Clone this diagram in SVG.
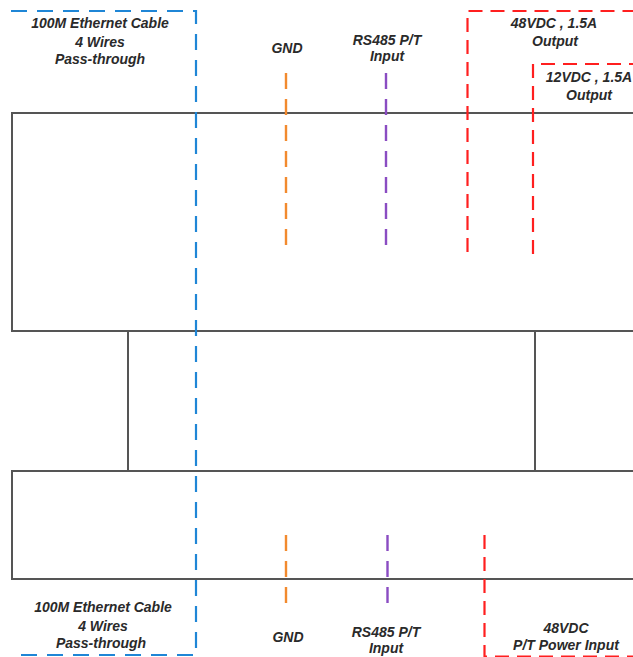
<svg xmlns="http://www.w3.org/2000/svg" width="633" height="657" viewBox="0 0 633 657">
<style>
.box{fill:none;stroke:#555;stroke-width:2}
.t{font-family:"Liberation Sans",Arial,sans-serif;font-size:14px;font-style:italic;font-weight:bold;fill:#2a2a2a;text-anchor:middle}
.blue{fill:none;stroke:#1f86d6;stroke-width:2.2;stroke-dasharray:16 10}
.org{fill:none;stroke:#f28a2e;stroke-width:2.4;stroke-dasharray:16 10}
.pur{fill:none;stroke:#8a4cc2;stroke-width:2.4;stroke-dasharray:16 10}
.red{fill:none;stroke:#ff1f1f;stroke-width:2.2;stroke-dasharray:14 8}
</style>
<rect width="633" height="657" fill="#fff"/>
<g id="top-unit"><path class="box" d="M640 113 H12 V331 H640"/></g>
<g id="middle-unit"><path class="box" d="M128 471 V331 M535 331 V471"/></g>
<g id="bottom-unit"><path class="box" d="M640 471 H12 V579 H640"/></g>
<g id="connectors">
<path class="blue" d="M11 11 H196 V655 H11"/>
<path class="org" d="M286 73 V249"/>
<path class="pur" d="M386 73 V249"/>
<path class="red" d="M467.5 252 V11 H640"/>
<path class="red" d="M533 254 V64 H640"/>
<path class="org" d="M286 535 V605"/>
<path class="pur" d="M387.5 535 V605"/>
<path class="red" d="M484.5 535 V656.5 H640"/>
</g>
<g id="label-eth-top">
<text class="t" x="100" y="28">100M Ethernet Cable</text>
<text class="t" x="100" y="46.5">4 Wires</text>
<text class="t" x="100" y="64">Pass-through</text>
</g>
<g id="label-gnd-top"><text class="t" x="287" y="53">GND</text></g>
<g id="label-rs485-top">
<text class="t" x="387" y="44.5">RS485 P/T</text>
<text class="t" x="387" y="61">Input</text>
</g>
<g id="label-48v-out">
<text class="t" x="554" y="28">48VDC , 1.5A</text>
<text class="t" x="555" y="46">Output</text>
</g>
<g id="label-12v-out">
<text class="t" x="589" y="81.5">12VDC , 1.5A</text>
<text class="t" x="589" y="99.5">Output</text>
</g>
<g id="label-eth-bottom">
<text class="t" x="103" y="612">100M Ethernet Cable</text>
<text class="t" x="103" y="631">4 Wires</text>
<text class="t" x="101" y="648">Pass-through</text>
</g>
<g id="label-gnd-bottom"><text class="t" x="288" y="642">GND</text></g>
<g id="label-rs485-bottom">
<text class="t" x="386" y="637">RS485 P/T</text>
<text class="t" x="386" y="653">Input</text>
</g>
<g id="label-48v-in">
<text class="t" x="566" y="633">48VDC</text>
<text class="t" x="566" y="650">P/T Power Input</text>
</g>
</svg>
